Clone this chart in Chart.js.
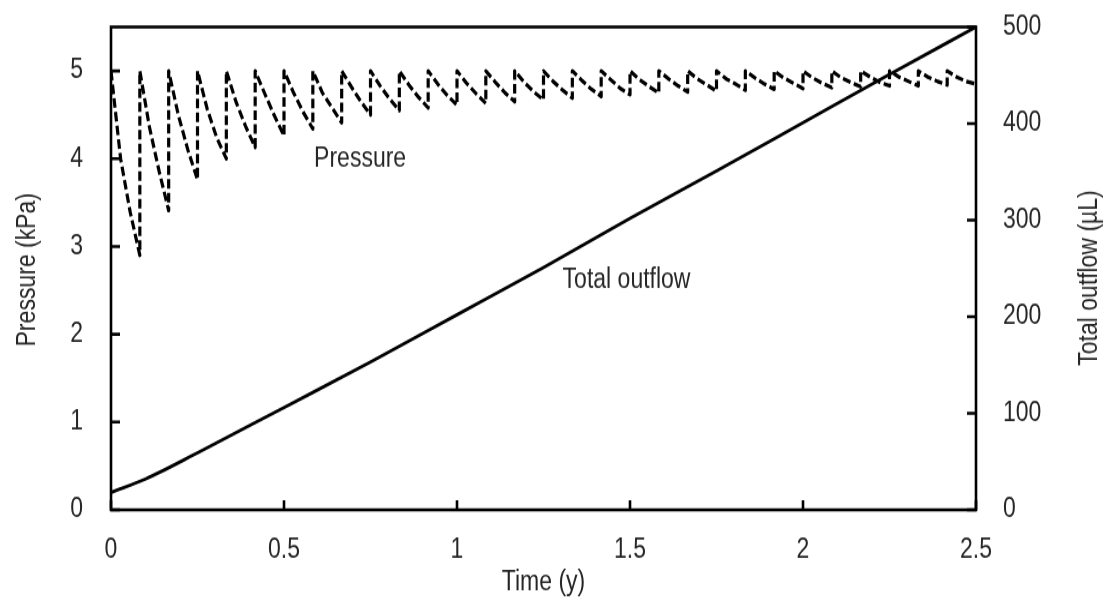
<!DOCTYPE html>
<html>
<head>
<meta charset="utf-8">
<style>
  html, body { margin: 0; padding: 0; background: #fff; }
  #wrap { width: 1110px; height: 601px; }
  /* the reference figure is stretched vertically, so the canvas is too */
  #chart { width: 1110px !important; height: 601px !important; }
</style>
<script src="https://cdn.jsdelivr.net/npm/chart.js@4/dist/chart.umd.min.js"></script>
</head>
<body>
<div id="wrap"><canvas id="chart" width="1110" height="501" style="width:1110px;height:601px"></canvas></div>
<script>
// one refill per month -> 12 pressure cycles per year
var cyclesPerYear = 12;
var pressurePeak = 5.0;
// pressure (kPa) read at 1/3, 2/3 and end of every cycle
var pressureThird = [4.00, 4.36, 4.50, 4.57, 4.65, 4.74, 4.75, 4.75, 4.82, 4.83,
  4.84, 4.85, 4.86, 4.87, 4.87, 4.88, 4.89, 4.90, 4.90, 4.91,
  4.91, 4.91, 4.92, 4.92, 4.92, 4.92, 4.93, 4.93, 4.93, 4.93];
var pressureTwoThird = [3.39, 3.86, 4.10, 4.24, 4.37, 4.49, 4.53, 4.58, 4.65, 4.68,
  4.70, 4.72, 4.74, 4.75, 4.76, 4.78, 4.79, 4.80, 4.82, 4.83,
  4.84, 4.85, 4.85, 4.86, 4.86, 4.87, 4.87, 4.88, 4.88, 4.88];
var pressureMin = [2.90, 3.41, 3.76, 4.00, 4.13, 4.26, 4.34, 4.41, 4.50, 4.55,
  4.58, 4.61, 4.63, 4.65, 4.67, 4.69, 4.71, 4.73, 4.75, 4.76,
  4.77, 4.78, 4.79, 4.80, 4.81, 4.82, 4.83, 4.83, 4.84, 4.85];

var outflowTime = [0, 0.1, 0.25, 0.5, 0.75, 1.0, 1.25, 1.5, 1.75, 2.0, 2.25, 2.5];
var outflowValues = [18, 32, 59, 106, 153, 202, 251, 302, 351, 401, 451, 500];

var timeTicks = [0, 0.5, 1, 1.5, 2, 2.5];
var pressureTicks = [0, 1, 2, 3, 4, 5];
var outflowTicks = [0, 100, 200, 300, 400, 500];

var seriesLabels = [
  { text: "Pressure", t: 0.72, p: 4.0 },
  { text: "Total outflow", t: 1.49, p: 2.62 },
];
var leftTitle = "Pressure (kPa)";
var rightTitle = "Total outflow (\u00b5L)";

var FONT = "'Liberation Sans', Arial, sans-serif";
var TEXT = "#262626";

function pressurePoints() {
  var pts = [];
  for (var i = 0; i < pressureMin.length; i++) {
    var t0 = i / cyclesPerYear, t1 = (i + 1) / cyclesPerYear;
    pts.push({ x: t0, y: pressurePeak });
    pts.push({ x: t0 + (t1 - t0) / 3, y: pressureThird[i] });
    pts.push({ x: t0 + 2 * (t1 - t0) / 3, y: pressureTwoThird[i] });
    pts.push({ x: t1, y: pressureMin[i] });
  }
  return pts;
}

function outflowPoints() {
  return outflowTime.map(function (t, i) {
    return { x: t, y: outflowValues[i] };
  });
}

function fixedTicks(list) {
  return function (scale) {
    scale.ticks = list.map(function (v) { return { value: v }; });
  };
}

function fixWidth(w) {
  return function (s) {
    s.width = w;
    // keep tick labels from pushing the plot area down
    s.paddingTop = 0;
    s.paddingBottom = 0;
  };
}

// rotated titles: squeeze the run so it is not lengthened by the stretch
function verticalTitle(ctx, text, cx, cy) {
  ctx.save();
  ctx.translate(cx, cy);
  ctx.rotate(-Math.PI / 2);
  ctx.scale(0.71, 1);
  ctx.font = "27px " + FONT;
  ctx.textAlign = "center";
  ctx.textBaseline = "middle";
  ctx.fillText(text, 0, 0);
  ctx.restore();
}

var frameAndText = {
  id: "frameAndText",
  afterDatasetsDraw: function (chart) {
    var ctx = chart.ctx, a = chart.chartArea;
    var sx = chart.scales.x, sy = chart.scales.y, sy2 = chart.scales.y2;
    ctx.save();
    ctx.strokeStyle = "#000";
    ctx.lineWidth = 2.6;
    ctx.strokeRect(a.left, a.top, a.right - a.left, a.bottom - a.top);
    // inward tick marks
    ctx.beginPath();
    timeTicks.forEach(function (v) {
      var px = sx.getPixelForValue(v);
      ctx.moveTo(px, a.bottom); ctx.lineTo(px, a.bottom - 8);
    });
    pressureTicks.forEach(function (v) {
      var py = sy.getPixelForValue(v);
      ctx.moveTo(a.left, py); ctx.lineTo(a.left + 9, py);
    });
    outflowTicks.forEach(function (v) {
      var py = sy2.getPixelForValue(v);
      ctx.moveTo(a.right, py); ctx.lineTo(a.right - 9, py);
    });
    ctx.stroke();

    ctx.fillStyle = TEXT;
    ctx.font = "23px " + FONT;
    ctx.textAlign = "center";
    ctx.textBaseline = "middle";
    seriesLabels.forEach(function (l) {
      ctx.fillText(l.text, sx.getPixelForValue(l.t), sy.getPixelForValue(l.p));
    });
    var mid = (a.top + a.bottom) / 2;
    verticalTitle(ctx, leftTitle, 28, mid + 1);
    verticalTitle(ctx, rightTitle, chart.width - 20, mid + 8);
    ctx.restore();
  },
};

var tickFont = { family: FONT, size: 23 };

new Chart(document.getElementById("chart"), {
  type: "line",
  data: {
    datasets: [
      {
        label: "Total outflow",
        data: outflowPoints(),
        yAxisID: "y2",
        borderColor: "#000",
        borderWidth: 2.8,
        borderJoinStyle: "round",
        pointRadius: 0,
        cubicInterpolationMode: "monotone",
        order: 0,
      },
      {
        label: "Pressure",
        data: pressurePoints(),
        yAxisID: "y",
        borderColor: "#000",
        borderWidth: 3.2,
        borderDash: [8, 3.5],
        borderJoinStyle: "round",
        pointRadius: 0,
        tension: 0,
        order: 1,
      },
    ],
  },
  options: {
    responsive: false,
    animation: false,
    parsing: false,
    layout: { padding: { top: 22.5, left: 0, right: 0, bottom: 0 } },
    plugins: { legend: { display: false }, tooltip: { enabled: false } },
    scales: {
      x: {
        type: "linear",
        position: "bottom",
        min: 0,
        max: 2.5,
        afterBuildTicks: fixedTicks(timeTicks),
        afterFit: function (s) { s.height = 76; },
        grid: { display: false, drawTicks: false },
        border: { display: false },
        ticks: {
          color: TEXT,
          font: tickFont,
          padding: 20,
          maxRotation: 0,
          callback: function (v) { return String(v); },
        },
        title: {
          display: true,
          text: "Time (y)",
          color: TEXT,
          font: tickFont,
          padding: { top: 0, bottom: 2 },
        },
      },
      y: {
        type: "linear",
        position: "left",
        min: 0,
        max: 5.5,
        afterBuildTicks: fixedTicks(pressureTicks),
        afterFit: fixWidth(111),
        grid: { display: false, drawTicks: false },
        border: { display: false },
        ticks: { color: TEXT, font: tickFont, padding: 28 },
      },
      y2: {
        type: "linear",
        position: "right",
        min: 0,
        max: 500,
        afterBuildTicks: fixedTicks(outflowTicks),
        afterFit: fixWidth(134),
        grid: { display: false, drawTicks: false },
        border: { display: false },
        ticks: { color: TEXT, font: tickFont, padding: 27 },
      },
    },
  },
  plugins: [frameAndText],
});
</script>
</body>
</html>
